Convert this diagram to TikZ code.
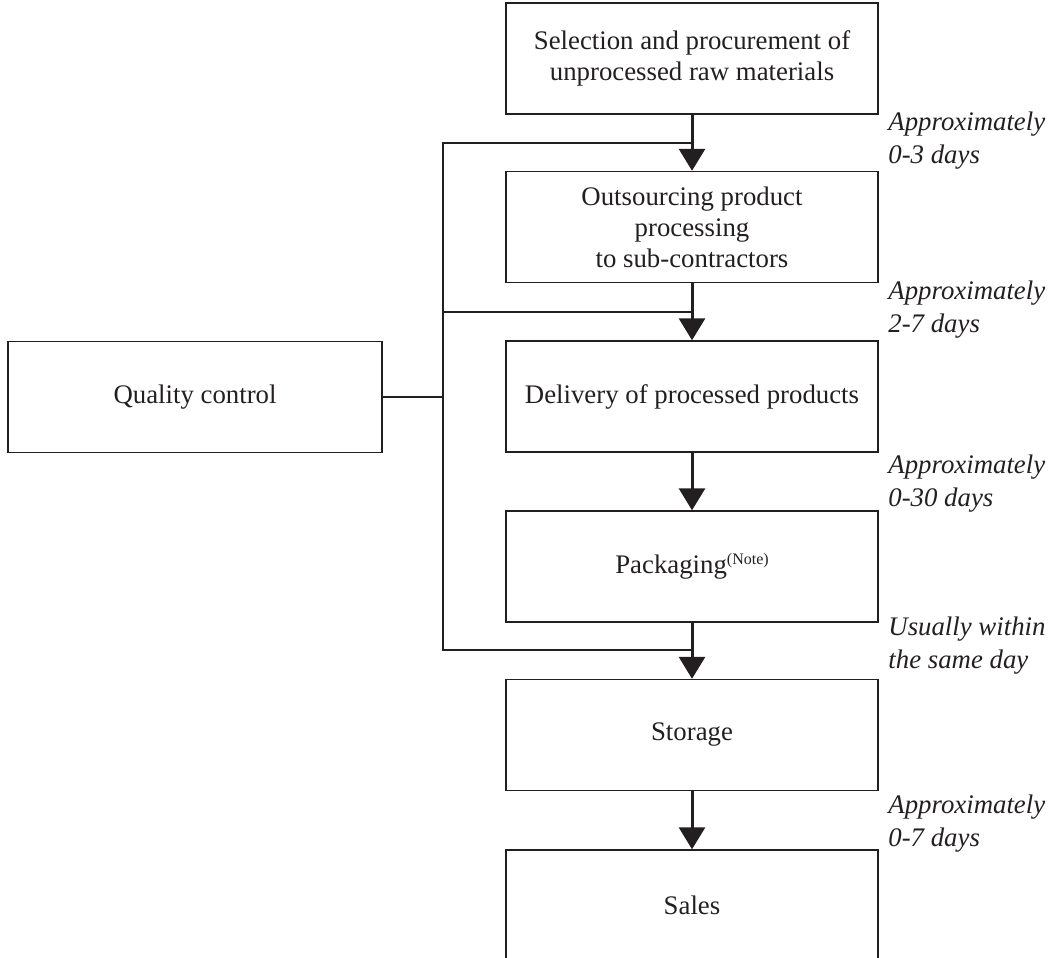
\documentclass[tikz,border=0pt]{standalone}
\usepackage{fontspec}
\setmainfont{Liberation Serif}
\usetikzlibrary{arrows.meta}
\definecolor{ink}{HTML}{231F20}
\tikzset{
  box/.style={draw=ink, line width=0.7pt, minimum width=186pt, minimum height=55.5pt, inner sep=2pt, align=center, text=ink, font=\fontsize{13.4}{15.5}\selectfont},
  flow/.style={draw=ink, line width=1.5pt, -{Triangle[width=13pt,length=11pt]}},
  link/.style={draw=ink, line width=0.7pt},
  lab/.style={anchor=west, inner sep=0pt, align=left, text=ink, font=\fontsize{13.4}{16.5}\selectfont\itshape}
}
\begin{document}
\begin{tikzpicture}[x=0.5pt,y=-0.5pt]
\useasboundingbox (0,0) rectangle (1052,957);
\node[box] (b1) at (692,58.5) {Selection and procurement of\\unprocessed raw materials};
\node[box] (b2) at (692,227) {Outsourcing product\\processing\\to sub-contractors};
\node[box] (b3) at (692,396.5) {Delivery of processed products};
\node[box] (b4) at (692,566.5) {Packaging\raisebox{4.6pt}{\fontsize{8}{8}\selectfont(Note)}};
\node[box] (b5) at (692,735) {Storage};
\node[box] (b6) at (692,905.5) {Sales};
\node[box, minimum width=187pt] (qc) at (195,397) {Quality control};

\draw[flow] (b1.south) -- (b2.north);
\draw[flow] (b2.south) -- (b3.north);
\draw[flow] (b3.south) -- (b4.north);
\draw[flow] (b4.south) -- (b5.north);
\draw[flow] (b5.south) -- (b6.north);

\coordinate (t1) at (443,143);
\coordinate (t2) at (443,312);
\coordinate (t3) at (443,650);
\coordinate (a1) at (b1.south |- t1);
\coordinate (a2) at (b1.south |- t2);
\coordinate (a3) at (b1.south |- t3);
\draw[link] (a1) -- (t1) -- (t3) -- (a3);
\draw[link] (t2) -- (a2);
\draw[link] (qc.east) -- (qc.east -| t1);

\node[lab] (l1) at (888,141) {Approximately\\0-3 days};
\node[lab] (l2) at (888,310) {Approximately\\2-7 days};
\node[lab] (l3) at (888,484) {Approximately\\0-30 days};
\node[lab] (l4) at (888,646) {Usually within\\the same day};
\node[lab] (l5) at (888,824) {Approximately\\0-7 days};
\end{tikzpicture}
\end{document}
